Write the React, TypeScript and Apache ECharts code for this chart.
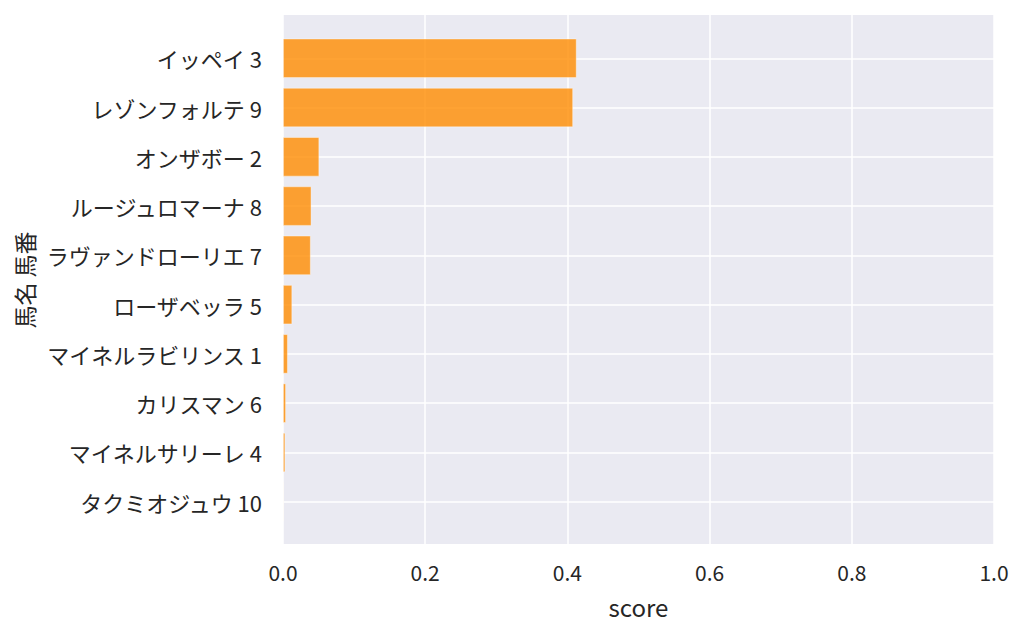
import React, { useEffect, useRef } from "react";
import * as echarts from "echarts";

const horseLabels = [
  "イッペイ 3",
  "レゾンフォルテ 9",
  "オンザボー 2",
  "ルージュロマーナ 8",
  "ラヴァンドローリエ 7",
  "ローザベッラ 5",
  "マイネルラビリンス 1",
  "カリスマン 6",
  "マイネルサリーレ 4",
  "タクミオジュウ 10",
];
const scores = [0.413, 0.408, 0.051, 0.04, 0.039, 0.013, 0.0068, 0.0042, 0.0032, 0.0012];
const xTicks = [0, 0.2, 0.4, 0.6, 0.8, 1.0];

const FONT = "'Noto Sans CJK JP', 'Noto Sans', sans-serif";
const TEXT = "#262626";

export default function App() {
  const ref = useRef<HTMLDivElement>(null);
  useEffect(() => {
    if (!ref.current) return;
    const chart = echarts.init(ref.current, undefined, { renderer: "svg" });
    chart.setOption({
      animation: false,
      backgroundColor: "#ffffff",
      textStyle: { fontFamily: FONT },
      grid: [
        { left: 283, right: 30, top: 15, bottom: 90, show: true, backgroundColor: "#EAEAF2", borderWidth: 0 },
        { left: 283, right: 30, top: 33.65, bottom: 107.65 },
      ],
      xAxis: [
        {
          type: "value",
          gridIndex: 0,
          min: 0,
          max: 1,
          interval: 0.2,
          name: "score",
          nameLocation: "middle",
          nameGap: 50,
          nameTextStyle: { fontSize: 24, color: TEXT, fontFamily: FONT },
          axisLine: { show: false },
          axisTick: { show: false },
          splitLine: { show: true, lineStyle: { color: "#ffffff", width: 1.5 } },
          axisLabel: {
            fontSize: 21,
            color: TEXT,
            margin: 17,
            fontFamily: FONT,
            formatter: (v: number) => (xTicks.includes(Math.round(v * 10) / 10) ? v.toFixed(1) : ""),
          },
        },
        {
          type: "value",
          gridIndex: 1,
          min: 0,
          max: 1,
          show: false,
          splitLine: { show: false },
        },
      ],
      yAxis: [
        {
          type: "value",
          gridIndex: 0,
          min: 0,
          max: 1,
          show: false,
          splitLine: { show: false },
        },
        {
          type: "category",
          gridIndex: 1,
          inverse: true,
          data: horseLabels,
          name: "馬名 馬番",
          nameLocation: "middle",
          nameGap: 246,
          nameRotate: 90,
          nameTextStyle: { fontSize: 23, color: TEXT, fontFamily: FONT },
          axisLine: { show: false },
          axisTick: { show: false },
          splitLine: { show: true, alignWithLabel: true, lineStyle: { color: "#ffffff", width: 1.5 } },
          axisLabel: { fontSize: 22, color: TEXT, margin: 21, fontFamily: FONT },
        },
      ],
      series: [
        {
          type: "bar",
          xAxisIndex: 1,
          yAxisIndex: 1,
          data: scores,
          barWidth: "80%",
          itemStyle: { color: "rgba(255,140,0,0.8)", borderColor: "rgba(255,255,255,0.5)", borderWidth: 0.8 },
        },
      ],
    });
    return () => chart.dispose();
  }, []);
  return (
    <div
      ref={ref}
      style={{ position: "absolute", left: 0, top: 0, width: 1024, height: 634 }}
    />
  );
}
